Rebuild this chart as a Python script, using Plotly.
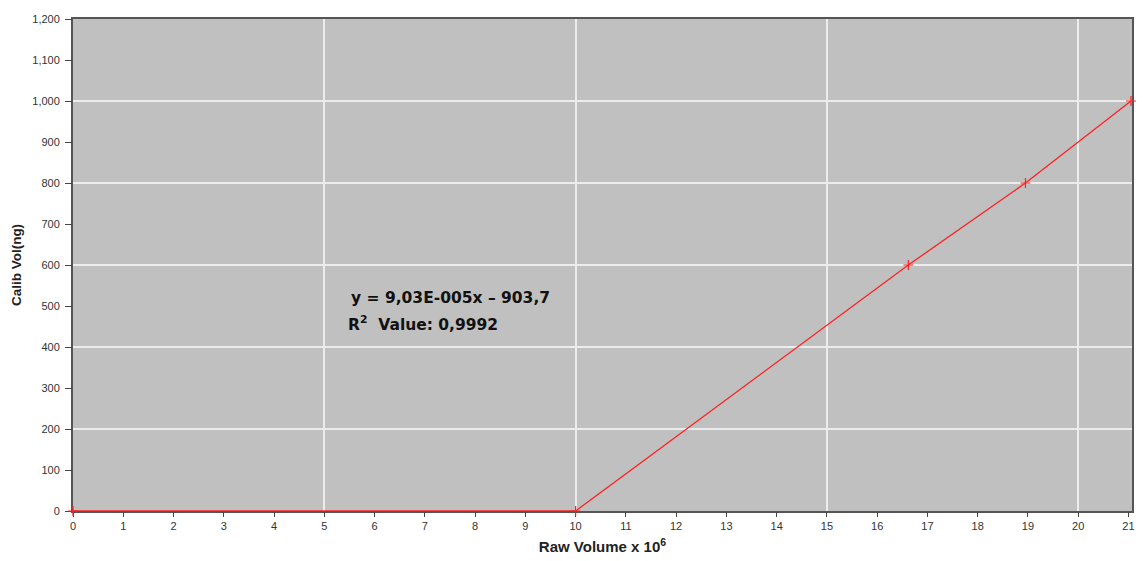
import plotly.graph_objects as go

# Data
raw_volume = [0, 10, 16.62, 18.95, 21.05]
calib_vol = [0, 0, 600, 800, 1000]
x_ticks = list(range(0, 22))
y_ticks = list(range(0, 1300, 100))
y_tick_text = [f"{v:,}" for v in y_ticks]
equation = "y = 9,03E-005x – 903,7"
r2_text = "R<sup>2</sup>  Value: 0,9992"

XR = [0, 21.07]
YR = [0, 1200]
tickfont = dict(family="Liberation Sans, Arial", size=11, color="#333333")

fig = go.Figure()
fig.add_trace(go.Scatter(
    x=raw_volume, y=calib_vol, mode="lines+markers",
    line=dict(color="#ff2020", width=1.3),
    marker=dict(symbol="cross-thin", size=7, line=dict(color="#ff2020", width=1.2)),
    cliponaxis=False,
    showlegend=False, hoverinfo="skip",
))

fig.update_layout(
    width=1145, height=561,
    margin=dict(l=73, r=11, t=19, b=50),
    paper_bgcolor="white",
    plot_bgcolor="#c0c0c0",
    xaxis=dict(range=XR, dtick=5, tick0=0, showgrid=True, gridcolor="#ececec", gridwidth=1.5,
               showticklabels=False, ticks="", zeroline=False, layer="below traces",
               showline=True, linecolor="#555555", linewidth=1.5, mirror=True),
    yaxis=dict(range=YR, dtick=200, tick0=0, showgrid=True, gridcolor="#ececec", gridwidth=1.5,
               showticklabels=False, ticks="", zeroline=False, layer="below traces",
               showline=True, linecolor="#555555", linewidth=1.5, mirror=True),
    xaxis2=dict(range=XR, overlaying="x", side="bottom", tickvals=x_ticks,
                showgrid=False, zeroline=False, ticks="outside", ticklen=5, tickcolor="#444",
                tickfont=tickfont, automargin=False, layer="below traces",
                title=dict(text="<b>Raw Volume x 10<sup>6</sup></b>", standoff=10,
                           font=dict(family="Liberation Sans, Arial", size=15, color="#222"))),
    yaxis2=dict(range=YR, overlaying="y", side="left", tickvals=y_ticks, ticktext=y_tick_text,
                showgrid=False, zeroline=False, ticks="outside", ticklen=7, tickcolor="#444",
                ticklabelstandoff=3, automargin=False, layer="below traces",
                tickfont=tickfont,
                title=dict(text="<b>Calib Vol(ng)</b>", standoff=7,
                           font=dict(family="Liberation Sans, Arial", size=13.5, color="#222"))),
)
# invisible trace to activate overlay axes
fig.add_trace(go.Scatter(x=[raw_volume[0]], y=[calib_vol[0]], xaxis="x2", yaxis="y2",
                         mode="markers", marker=dict(opacity=0), showlegend=False, hoverinfo="skip"))

fig.add_annotation(x=5.5, y=520, xref="x", yref="y", xanchor="left", yanchor="middle",
                   text=f"<b>{equation}</b>", showarrow=False,
                   font=dict(family="DejaVu Sans", size=15.5, color="#111"))
fig.add_annotation(x=5.43, y=457, xref="x", yref="y", xanchor="left", yanchor="middle",
                   text=f"<b>{r2_text}</b>", showarrow=False,
                   font=dict(family="DejaVu Sans", size=15.5, color="#111"))

fig.write_html("out.html")
